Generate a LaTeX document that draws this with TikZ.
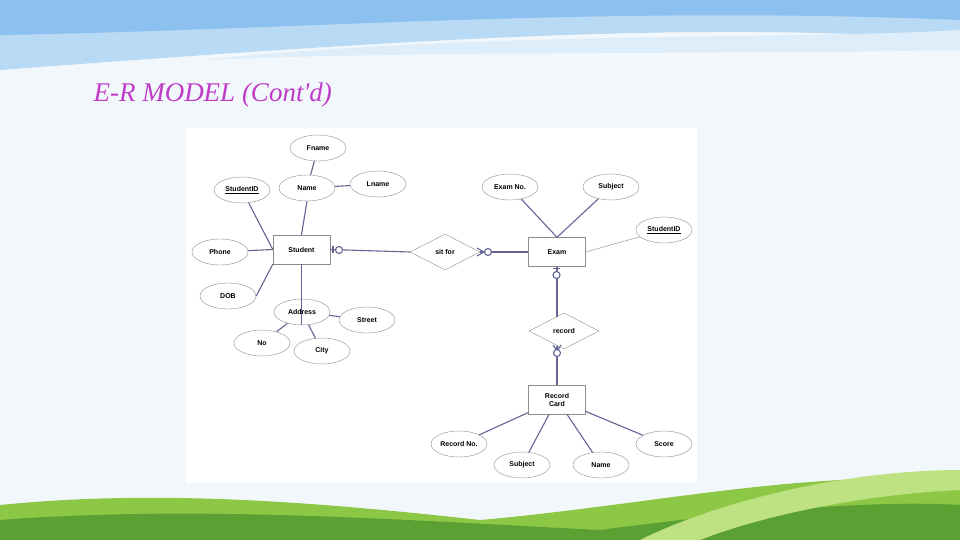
\documentclass[tikz,border=0pt]{standalone}
\usepackage{fontspec}
\setmainfont{Liberation Sans}
\usetikzlibrary{shapes.geometric}
\definecolor{bg}{RGB}{242,247,251}
\definecolor{wa}{RGB}{185,218,244}
\definecolor{wb}{RGB}{140,192,238}
\definecolor{wc}{RGB}{222,237,250}
\definecolor{ga}{RGB}{140,200,70}
\definecolor{gb}{RGB}{90,160,50}
\definecolor{gc}{RGB}{190,225,130}
\definecolor{tt}{RGB}{190,60,200}
\definecolor{lc}{RGB}{100,100,150}
\begin{document}
\begin{tikzpicture}[x=1pt,y=-1pt,
 ent/.style={draw=black!45, fill=white, minimum width=57pt, minimum height=29pt, font=\bfseries\fontsize{7}{8}\selectfont, align=center, inner sep=1pt},
 att/.style={ellipse, draw=black!45, fill=white, minimum width=56pt, minimum height=26pt, inner sep=0pt, font=\bfseries\fontsize{7}{8}\selectfont},
 rel/.style={diamond, draw=black!45, fill=white, minimum width=70pt, minimum height=36pt, inner sep=0pt, aspect=2, font=\bfseries\fontsize{7}{8}\selectfont},
 cl/.style={line width=1.1pt, draw=lc}]
\useasboundingbox (0,0) rectangle (960,540);
\fill[bg] (0,0) rectangle (960,540);
% top waves
\fill[wa] (0,0) -- (960,0) -- (960,40) .. controls (700,20) and (400,40) .. (0,70) -- cycle;
\fill[wb] (0,0) -- (960,0) -- (960,20) .. controls (600,5) and (300,30) .. (0,35) -- cycle;
\fill[wc] (200,60) .. controls (500,30) and (800,40) .. (960,30) -- (960,50) .. controls (700,55) and (450,50) .. (200,60) -- cycle;
% bottom hills
\fill[ga] (0,540) -- (0,505) .. controls (150,490) and (300,500) .. (480,520) .. controls (650,505) and (800,470) .. (960,480) -- (960,540) -- cycle;
\fill[gb] (0,540) -- (0,520) .. controls (200,505) and (400,520) .. (600,530) .. controls (750,510) and (880,500) .. (960,505) -- (960,540) -- cycle;
\fill[gc] (640,540) .. controls (720,500) and (850,470) .. (960,470) -- (960,490) .. controls (850,495) and (750,520) .. (700,540) -- cycle;
% title
\node[anchor=west, font=\itshape\fontsize{27}{30}\selectfont, text=tt] (title) at (90,95) {\fontspec{Liberation Serif}E-R MODEL (Cont'd)};
% panel
\fill[white] (186,128) rectangle (697,483);
% nodes
\node[att] (fname) at (318,148) {Fname};
\node[att] (name) at (307,188) {Name};
\node[att] (lname) at (378,184) {Lname};
\node[att] (sid) at (242,190) {\underline{StudentID}};
\node[att] (phone) at (220,252) {Phone};
\node[att] (dob) at (228,296) {DOB};
\node[ent] (student) at (301.5,249.5) {Student};
\node[att] (street) at (367,320) {Street};
\node[att] (no) at (262,343) {No};
\node[att] (city) at (322,351) {City};
\node[rel] (sitfor) at (445,252) {sit for};
\node[ent] (exam) at (557,252) {Exam};
\node[att] (examno) at (510,187) {Exam No.};
\node[att] (esubj) at (611,187) {Subject};
\node[att] (esid) at (664,230) {\underline{StudentID}};
\node[rel] (record) at (564,331) {record};
\node[ent] (rcard) at (557,399.5) {Record\\Card};
\node[att] (recno) at (459,444) {Record No.};
\node[att] (rsubj) at (522,465) {Subject};
\node[att] (rname) at (601,465) {Name};
\node[att] (score) at (664,444) {Score};
\node[att, fill opacity=0, text opacity=1] (address) at (302,312) {Address};
\coordinate (rtop) at (557,316.5);
\coordinate (rbot) at (557,345.5);
\coordinate (addrin) at (301.5,325);
% connectors
\draw[cl] (fname) -- (name);
\draw[cl] (name) -- (lname);
\draw[cl] (name.south) -- (student.north);
\draw[cl] (sid) -- (student.west);
\draw[cl] (phone) -- (student.west);
\draw[cl] (dob.east) -- (student.south west);
\draw[cl] (student.south) -- (addrin);
\draw[cl] (address) -- (street);
\draw[cl] (address) -- (no);
\draw[cl] (address) -- (city);
\draw[cl] (student.east) -- (sitfor.west);
\draw[cl] (sitfor.east) -- (exam.west);
\draw[cl] (examno) -- (exam.north);
\draw[cl] (esubj) -- (exam.north);
\draw[draw=black!35, line width=0.6pt] (esid) -- (exam.east);
\draw[cl] (exam.south) -- (rtop);
\draw[cl] (rbot) -- (rcard.north);
\draw[cl] (rcard) -- (recno);
\draw[cl] (rcard) -- (rsubj);
\draw[cl] (rcard) -- (rname);
\draw[cl] (rcard) -- (score);
% cardinality marks
\draw[cl] (333,246) -- (333,253);
\draw[cl, fill=white] (339,250) circle (3.5);
\draw[cl] (477,248) -- (484,252) -- (477,256);
\draw[cl, fill=white] (488,252) circle (3.5);
\draw[cl] (553,268.5) -- (560,268.5);
\draw[cl, fill=white] (556.5,275) circle (3.5);
\draw[cl] (553,345) -- (557,351) -- (561,345);
\draw[cl, fill=white] (557,353) circle (3.5);
\end{tikzpicture}
\end{document}
